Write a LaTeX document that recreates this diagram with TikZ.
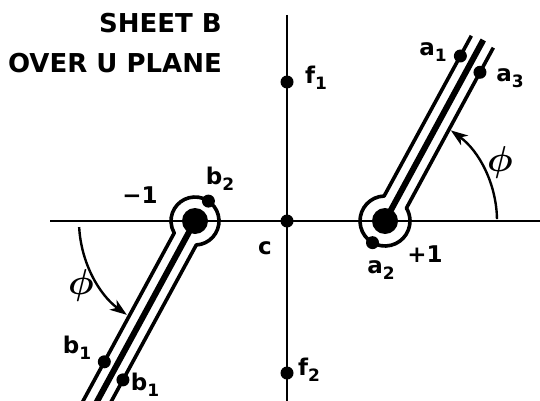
\documentclass[tikz,border=0pt]{standalone}
\usepackage{graphicx}
\usepackage{fontspec}
\setmainfont{DejaVu Sans}
\usetikzlibrary{calc,arrows.meta}
\newcommand\lab[2]{#1\raisebox{-0.45ex}{\fontsize{17}{17}\selectfont #2}}
\newcommand\bigphi{\scalebox{3.6}{\boldmath$\phi$}}
\begin{document}
\begin{tikzpicture}[x=1pt,y=1pt,
  axis/.style={line width=2pt},
  slit/.style={line width=3.6pt, line join=round},
  cut/.style={line width=6pt},
  dotsm/.style={circle,fill,inner sep=0pt,minimum size=13pt},
  dotbig/.style={circle,fill,inner sep=0pt,minimum size=26pt},
  angarrow/.style={line width=2.4pt,-{Stealth[length=17pt,width=12pt,inset=5pt]}},
  lbl/.style={font=\bfseries\fontsize{23}{23}\selectfont, inner sep=0pt},
  titlelbl/.style={font=\bfseries\fontsize{26}{26}\selectfont, inner sep=0pt, anchor=base east},
  philbl/.style={inner sep=0pt}]
\useasboundingbox (0,0) rectangle (540,400);
\begin{scope}
\clip (0,0) rectangle (540,400);
% axes
\coordinate (axW) at (50,179);
\coordinate (axE) at (540,179);
\coordinate (axN) at (287,385);
\coordinate (axS) at (287,-2);
\draw[axis] (axW) -- (axE);
\draw[axis] (axN) -- (axS);
% branch points
\coordinate (R) at (385,179);
\coordinate (L) at (195,179);
% right keyhole
\draw[slit] ($(R)+(61.5:204)+(151.5:12.5)$) -- ($(R)+(92:25)$)
  arc[start angle=92,end angle=391,radius=25]
  -- ($(R)+(61.5:204)+(-28.5:12.5)$);
\coordinate (Rend) at ($(R)+(61.5:206)$);
\draw[cut] (R) -- (Rend);
% left keyhole
\draw[slit] ($(L)+(241.5:230)+(331.5:12.5)$) -- ($(L)+(273:24)$)
  arc[start angle=273,end angle=570,radius=24]
  -- ($(L)+(241.5:230)+(151.5:12.5)$);
\coordinate (Lend) at ($(L)+(241.5:230)$);
\draw[cut] (L) -- (Lend);
\end{scope}
% dots
\node[dotbig] (pR) at (R) {};
\node[dotbig] (pL) at (L) {};
\node[dotsm] (c) at (287,179) {};
\node[dotsm] (f1) at (287,318) {};
\node[dotsm] (f2) at (287,27) {};
\node[dotsm] (a1) at ($(R)+(61.5:181)+(151.5:12.5)$) {};
\node[dotsm] (a3) at ($(R)+(61.5:176)+(-28.5:12.5)$) {};
\node[dotsm] (a2) at ($(R)+(240:25)$) {};
\node[dotsm] (b2) at ($(L)+(56:24)$) {};
\node[dotsm] (b1l) at ($(L)+(241.5:167)+(151.5:12.5)$) {};
\node[dotsm] (b1r) at ($(L)+(241.5:174)+(331.5:12.5)$) {};
% angle arrows
\draw[angarrow] ($(R)+(1:112)$) arc[start angle=1,end angle=54,radius=112];
\draw[angarrow] ($(L)+(183:116)$) arc[start angle=183,end angle=234,radius=116];
% labels
\node[titlelbl] (t1) at (222,367) {SHEET B};
\node[titlelbl] (t2) at (222,328) {OVER U PLANE};
\node[lbl] (la1) at (433,348) {\lab{a}{1}};
\node[lbl] (la3) at (510,322) {\lab{a}{3}};
\node[lbl] (la2) at (381,130) {\lab{a}{2}};
\node[lbl] (lp1) at (425,146) {+1};
\node[lbl] (lm1) at (140,205) {−1};
\node[lbl] (lb2) at (220,221) {\lab{b}{2}};
\node[lbl] (lb1l) at (77,52) {\lab{b}{1}};
\node[lbl] (lb1r) at (145,15) {\lab{b}{1}};
\node[lbl] (lf1) at (316,322) {\lab{f}{1}};
\node[lbl] (lf2) at (309,30) {\lab{f}{2}};
\node[lbl] (lc) at (265,152) {c};
\node[philbl] (phR) at (500,238) {\bigphi};
\node[philbl] (phL) at (81,115) {\bigphi};
\end{tikzpicture}
\end{document}
